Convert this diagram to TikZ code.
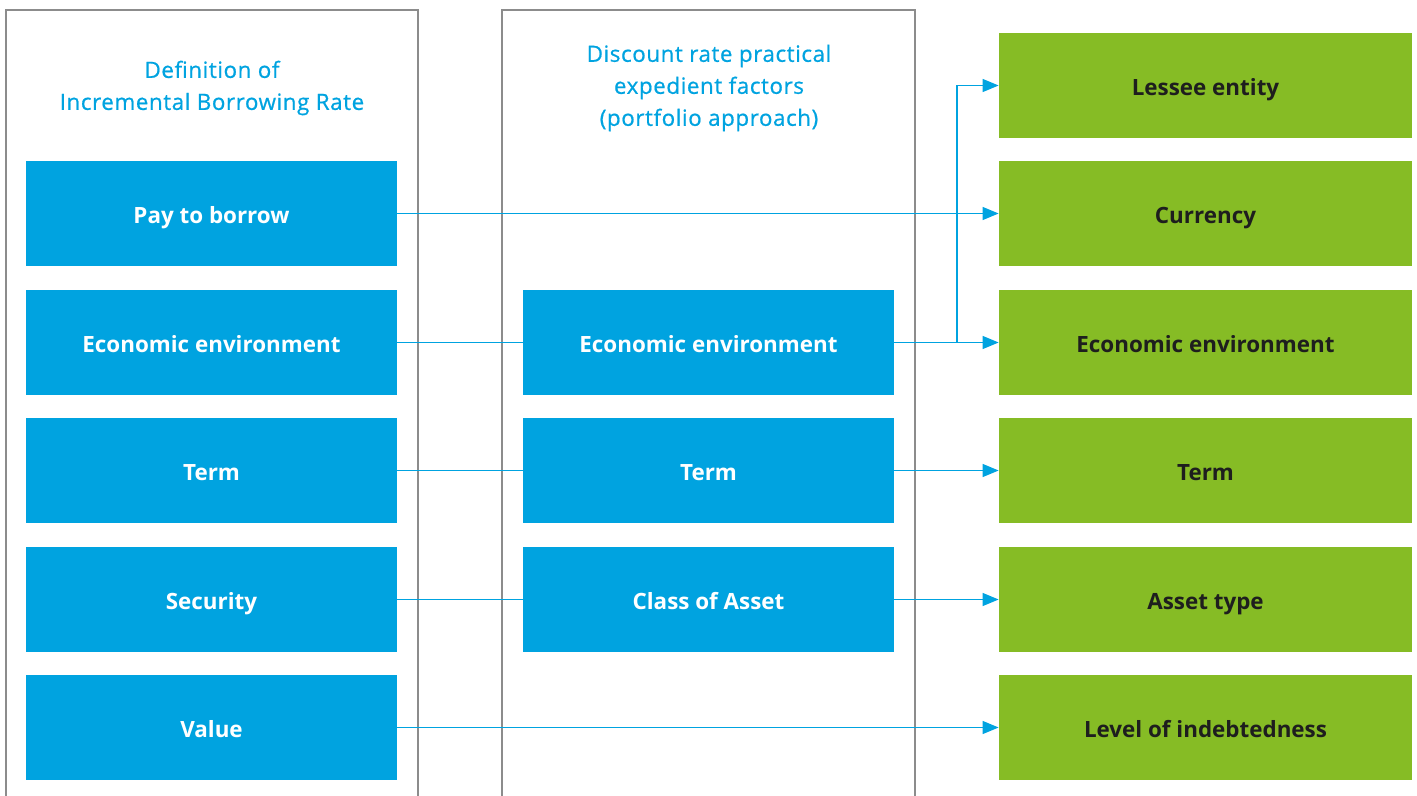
\documentclass[tikz,border=0pt]{standalone}
\usepackage{fontspec}
\setmainfont{Open Sans}
\newfontfamily\titlefont{Open Sans}[BoldFont={Open Sans}, BoldFeatures={FakeBold=0.7}, LetterSpace=2.5]
\usetikzlibrary{arrows.meta}
\definecolor{dblue}{HTML}{00A3E0}
\definecolor{dgreen}{HTML}{86BC25}
\definecolor{dtext}{HTML}{1E1E1E}
\definecolor{pgray}{HTML}{8C8C8C}
\tikzset{
  bluebox/.style={fill=dblue, text=white, font=\bfseries\fontsize{11.2}{13}\selectfont, minimum width=185.5pt, minimum height=52.5pt, inner sep=0pt, text height=9.6pt, text depth=0pt},
  greenbox/.style={fill=dgreen, text=dtext, font=\bfseries\fontsize{11.2}{13}\selectfont, minimum width=206.5pt, minimum height=52.5pt, inner sep=0pt, text height=9.6pt, text depth=0pt},
  titletext/.style={text=dblue, align=center, font=\titlefont\bfseries\fontsize{11.2}{16}\selectfont},
  panel/.style={draw=pgray, line width=0.55pt},
  conn/.style={draw=dblue, line width=0.65pt},
  arr/.style={conn, -{Triangle[length=8pt,width=6.5pt]}}
}
\begin{document}
\begin{tikzpicture}[x=0.5pt,y=-0.5pt]
\useasboundingbox (0,0) rectangle (1417,796);
% panels
\draw[panel] (6,800) -- (6,10) -- (418,10) -- (418,800);
\draw[panel] (502,800) -- (502,10) -- (915,10) -- (915,800);
% titles
\node[titletext] (t1) at (212,88) {Definition of\\Incremental Borrowing Rate};
\node[titletext] (t2) at (709,88) {Discount rate practical\\expedient factors\\(portfolio approach)};
% left boxes
\node[bluebox] (l1) at (211.5,213.5) {Pay to borrow};
\node[bluebox] (l2) at (211.5,342.5) {Economic environment};
\node[bluebox] (l3) at (211.5,470.5) {Term};
\node[bluebox] (l4) at (211.5,599.5) {Security};
\node[bluebox] (l5) at (211.5,727.5) {Value};
% middle boxes
\node[bluebox] (m2) at (708.5,342.5) {Economic environment};
\node[bluebox] (m3) at (708.5,470.5) {Term};
\node[bluebox] (m4) at (708.5,599.5) {Class of Asset};
% green boxes
\node[greenbox] (g1) at (1205.5,85.5) {Lessee entity};
\node[greenbox] (g2) at (1205.5,213.5) {Currency};
\node[greenbox] (g3) at (1205.5,342.5) {Economic environment};
\node[greenbox] (g4) at (1205.5,470.5) {Term};
\node[greenbox] (g5) at (1205.5,599.5) {Asset type};
\node[greenbox] (g6) at (1205.5,727.5) {Level of indebtedness};
% connectors
\coordinate (br) at (957,342.5);
\draw[arr] (l1.east) -- (g2.west);
\draw[conn] (l2.east) -- (m2.west);
\draw[arr] (m2.east) -- (g3.west);
\draw[arr] (br) |- (g1.west);
\draw[conn] (l3.east) -- (m3.west);
\draw[arr] (m3.east) -- (g4.west);
\draw[conn] (l4.east) -- (m4.west);
\draw[arr] (m4.east) -- (g5.west);
\draw[arr] (l5.east) -- (g6.west);
\end{tikzpicture}
\end{document}
